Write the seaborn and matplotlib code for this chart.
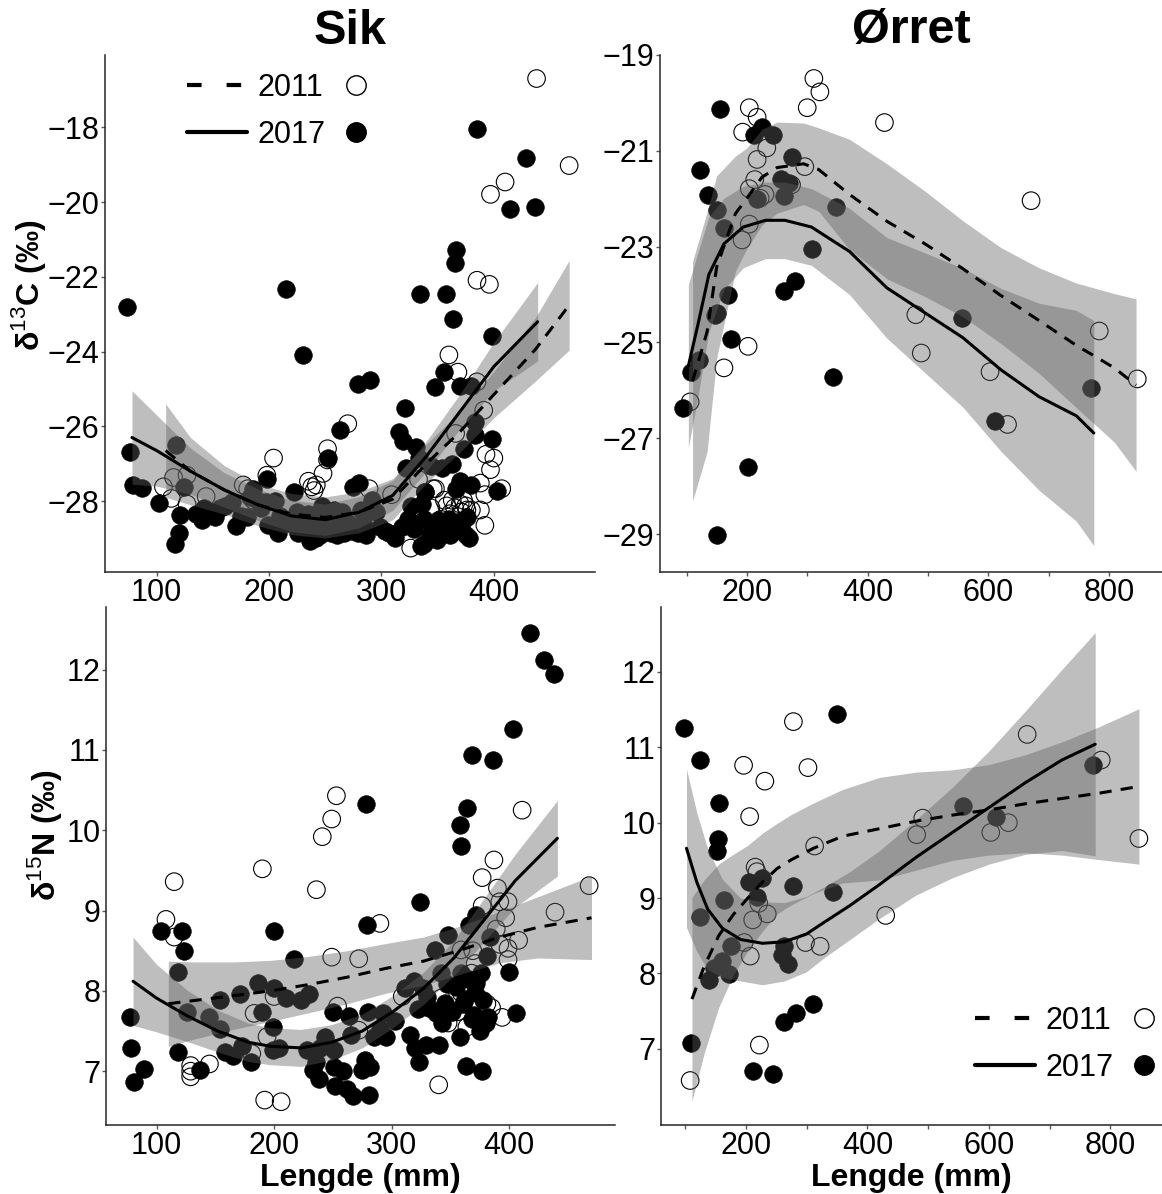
import numpy as np
import matplotlib
matplotlib.use("Agg")
import matplotlib.pyplot as plt
import seaborn as sns
from matplotlib.lines import Line2D

# ---------------- Sik, d13C ----------------
sikC_x17 = [74, 76, 79, 87, 102, 116, 120, 121, 117, 124, 135, 142, 152, 156, 161, 167, 171, 180, 186, 189,
            198, 197, 199, 208, 215, 222, 225, 226, 230, 235, 236, 242, 243, 247, 250, 252, 255, 258, 263, 265,
            267, 274, 275, 279, 279, 280, 282, 284, 290, 292, 299, 307, 312, 316, 319, 321, 322, 324, 326, 329,
            331, 333, 334, 336, 338, 338, 339, 343, 344, 348, 349, 353, 354, 356, 357, 360, 361, 363, 364, 365,
            366, 365, 366, 368, 370, 370, 373, 375, 376, 378, 380, 380, 383, 385, 383, 398, 398, 403, 414, 429,
            437, 205, 210, 218, 230, 238, 245, 248, 254, 260, 262, 270, 286, 295, 303, 318, 328, 335, 345, 350,
            358, 372, 140, 148, 175, 183, 193]
sikC_y17 = [-22.8, -26.7, -27.57, -27.65, -28.06, -29.16, -28.85, -28.37, -26.5, -27.62, -28.34, -28.18, -28.44,
            -28.18, -28.13, -28.03, -28.68, -28.44, -27.67, -27.98, -27.42, -28.03, -28.65, -28.85, -22.32, -27.77,
            -28.29, -28.85, -24.09, -28.34, -29.08, -29.0, -28.34, -28.13, -28.7, -26.85, -28.85, -28.24, -26.09,
            -28.29, -28.85, -28.8, -27.62, -24.86, -28.85, -27.52, -28.24, -28.59, -24.76, -27.98, -28.7, -28.85,
            -29.0, -26.14, -26.39, -25.52, -27.11, -28.49, -28.13, -28.75, -26.55, -26.85, -22.45, -28.08, -29.16,
            -28.49, -27.77, -28.9, -27.06, -24.96, -29.05, -28.9, -27.11, -24.55, -22.45, -28.49, -28.9, -27.0,
            -23.12, -28.8, -27.67, -21.63, -21.28, -28.55, -24.91, -27.47, -26.6, -28.9, -28.44, -29.0, -24.91,
            -27.57, -26.24, -18.05, -25.88, -23.58, -26.34, -27.72, -20.18, -18.82, -20.13, -28.0, -28.4, -28.6,
            -28.5, -28.7, -28.9, -28.5, -28.6, -28.9, -28.5, -28.6, -28.9, -28.3, -28.8, -28.7, -28.6, -29.2,
            -28.7, -28.5, -28.8, -28.6, -28.5, -28.3, -28.4, -27.9, -28.2]
sikC_x11 = [106, 113, 115, 127, 127, 144, 177, 181, 186, 198, 204, 235, 238, 240, 242, 248, 252, 252, 270, 289,
            309, 326, 333, 339, 344, 346, 353, 356, 358, 360, 361, 363, 365, 366, 368, 370, 371, 373, 375, 376,
            380, 385, 385, 388, 388, 391, 392, 393, 396, 397, 397, 400, 407, 410, 438, 467, 392, 358, 348]
sikC_y11 = [-27.62, -27.93, -27.37, -27.31, -28.08, -27.88, -27.57, -27.67, -27.98, -27.31, -26.85, -27.47,
            -27.62, -27.72, -27.57, -27.26, -26.6, -26.9, -25.93, -27.67, -27.83, -29.26, -27.42, -27.77, -28.18,
            -27.67, -28.49, -27.98, -28.13, -24.09, -28.34, -27.98, -28.18, -26.19, -24.55, -28.08, -28.29, -27.98,
            -28.13, -28.24, -28.24, -24.81, -22.09, -27.52, -28.24, -25.57, -27.83, -26.75, -22.2, -19.79, -27.16,
            -26.85, -27.67, -19.46, -16.69, -19.02, -28.65, -28.75, -27.67]
# smooth curves (fit, half-width of confidence band)
sikC_cx17 = [78, 100, 130, 160, 190, 220, 250, 280, 310, 340, 370, 400, 439]
sikC_cf17 = [-26.3, -26.65, -27.2, -27.7, -28.1, -28.4, -28.5, -28.3, -27.85, -26.8, -25.6, -24.4, -23.2]
sikC_hw17 = [1.25, 0.95, 0.62, 0.46, 0.42, 0.42, 0.42, 0.42, 0.4, 0.4, 0.47, 0.65, 1.05]
sikC_cx11 = [108, 130, 160, 190, 220, 250, 280, 310, 340, 370, 400, 437, 467]
sikC_cf11 = [-26.65, -27.2, -27.7, -28.1, -28.35, -28.44, -28.3, -27.95, -27.0, -26.14, -25.15, -23.94, -22.76]
sikC_hw11 = [1.25, 0.9, 0.65, 0.56, 0.55, 0.55, 0.55, 0.55, 0.52, 0.55, 0.62, 0.85, 1.2]

# ---------------- Ørret, d13C ----------------
orC_x17 = [94, 107, 120, 123, 136, 151, 147, 150, 156, 162, 169, 173, 202, 151, 211, 225, 244, 217, 257, 269,
           261, 274, 261, 280, 308, 348, 342, 556, 611, 771]
orC_y17 = [-26.37, -25.61, -25.37, -21.41, -21.93, -22.23, -24.42, -24.38, -20.12, -22.61, -24.0, -24.92, -27.6,
           -29.02, -20.67, -20.51, -20.67, -22.0, -21.59, -21.67, -21.95, -21.13, -23.92, -23.72, -23.04, -22.17,
           -25.72, -24.48, -26.63, -25.96]
orC_x11 = [106, 162, 192, 193, 204, 204, 204, 202, 217, 217, 213, 222, 230, 233, 296, 300, 311, 321, 274, 428,
           671, 480, 489, 603, 632, 784, 847]
orC_y11 = [-26.24, -25.53, -22.86, -20.61, -20.1, -22.53, -21.79, -25.08, -20.3, -21.18, -21.6, -21.99, -21.91,
           -20.94, -21.33, -20.1, -19.49, -19.77, -21.71, -20.41, -22.04, -24.42, -25.22, -25.61, -26.71, -24.76,
           -25.76]
orC_cx11 = [110, 134, 150, 181, 200, 225, 250, 294, 319, 370, 432, 495, 558, 621, 684, 746, 809, 845]
orC_cf11 = [-25.81, -24.78, -23.42, -22.31, -21.99, -21.55, -21.35, -21.27, -21.39, -21.91, -22.47, -22.94,
            -23.46, -24.02, -24.54, -25.06, -25.53, -25.89]
orC_hw11 = [2.5, 2.5, 1.9, 1.2, 1.05, 1.0, 0.95, 0.85, 0.87, 1.15, 1.2, 1.1, 1.0, 1.0, 1.1, 1.3, 1.55, 1.8]
orC_cx17 = [103, 119, 137, 162, 194, 231, 263, 307, 370, 432, 495, 558, 621, 684, 746, 775]
orC_cf17 = [-25.49, -24.62, -23.58, -22.94, -22.59, -22.45, -22.45, -22.59, -23.1, -23.86, -24.38, -24.9,
            -25.57, -26.13, -26.53, -26.89]
orC_hw17 = [1.7, 1.5, 1.2, 0.95, 0.85, 0.8, 0.8, 0.8, 0.9, 1.05, 1.25, 1.45, 1.7, 1.95, 2.2, 2.35]

# ---------------- Sik, d15N ----------------
sikN_x17 = [77, 78, 81, 89, 104, 118, 118, 122, 123, 126, 137, 145, 154, 154, 158, 165, 171, 173, 180, 186,
            190, 199, 200, 200, 199, 204, 210, 217, 223, 228, 230, 233, 236, 238, 239, 243, 246, 250, 251, 251,
            252, 259, 262, 264, 265, 267, 275, 277, 278, 279, 280, 281, 282, 285, 290, 293, 295, 303, 311, 316,
            319, 320, 322, 323, 324, 327, 329, 330, 332, 337, 338, 340, 342, 343, 347, 348, 351, 358, 359, 358,
            359, 361, 363, 364, 365, 366, 368, 368, 371, 372, 375, 377, 376, 378, 381, 382, 384, 386, 400, 403,
            406, 418, 430, 438, 345, 355, 370, 372, 380, 362]
sikN_y17 = [7.67, 7.29, 6.86, 7.03, 8.75, 8.24, 7.24, 8.75, 8.5, 7.74, 7.02, 7.68, 7.53, 7.89, 7.24, 7.19, 7.96,
            7.31, 7.12, 8.1, 7.74, 7.55, 8.03, 8.74, 7.26, 7.29, 7.91, 8.4, 7.89, 7.26, 7.96, 7.02, 7.12, 6.9,
            7.29, 7.43, 7.33, 7.74, 7.26, 7.05, 6.81, 7.0, 6.78, 7.69, 7.45, 6.69, 7.02, 7.14, 10.33, 8.82, 7.74,
            6.7, 7.05, 7.43, 7.53, 7.72, 7.43, 7.62, 8.03, 7.45, 8.12, 7.29, 7.77, 7.12, 9.11, 8.03, 7.33, 7.93,
            7.79, 8.51, 7.72, 7.33, 8.22, 7.6, 8.08, 8.7, 7.74, 10.06, 9.81, 7.43, 8.22, 7.84, 7.07, 10.28, 8.15,
            8.82, 10.94, 7.65, 7.98, 8.94, 7.5, 7.0, 8.22, 7.89, 8.44, 7.67, 8.67, 10.88, 8.24, 11.26, 7.72, 12.46,
            12.12, 11.95, 7.85, 8.05, 7.7, 8.1, 7.6, 7.9]
sikN_x11 = [108, 115, 115, 129, 129, 129, 145, 183, 181, 190, 194, 192, 200, 206, 236, 241, 249, 253, 249, 254,
            272, 272, 290, 309, 340, 342, 343, 348, 356, 359, 359, 364, 368, 369, 371, 377, 377, 381, 385, 387,
            389, 390, 392, 392, 394, 397, 399, 399, 399, 408, 411, 439, 468]
sikN_y11 = [8.89, 9.36, 8.67, 7.0, 6.93, 7.07, 7.09, 7.72, 7.22, 9.52, 7.43, 6.64, 7.93, 6.62, 9.26, 9.92, 10.14,
            10.43, 8.42, 7.81, 8.4, 7.51, 8.84, 7.93, 6.83, 7.91, 7.65, 7.6, 7.74, 8.51, 7.98, 7.55, 8.22, 8.5,
            8.34, 9.41, 9.06, 7.84, 7.79, 9.63, 8.77, 9.28, 9.11, 8.58, 7.67, 8.91, 9.11, 8.53, 8.39, 8.63, 10.25,
            8.98, 9.31]
sikN_cx17 = [80, 100, 126, 152, 178, 197, 223, 249, 275, 301, 327, 353, 379, 405, 441]
sikN_cf17 = [8.12, 7.91, 7.69, 7.5, 7.36, 7.31, 7.29, 7.36, 7.5, 7.74, 8.03, 8.41, 8.89, 9.37, 9.9]
sikN_hw17 = [0.55, 0.42, 0.32, 0.26, 0.24, 0.23, 0.23, 0.22, 0.21, 0.2, 0.2, 0.22, 0.27, 0.33, 0.47]
sikN_cx11 = [110, 132, 165, 197, 230, 262, 295, 327, 359, 392, 424, 470]
sikN_cf11 = [7.84, 7.88, 7.94, 8.0, 8.08, 8.17, 8.28, 8.37, 8.51, 8.67, 8.79, 8.91]
sikN_hw11 = [0.53, 0.48, 0.42, 0.38, 0.35, 0.33, 0.31, 0.3, 0.3, 0.32, 0.38, 0.52]

# ---------------- Ørret, d15N ----------------
orN_x17 = [98, 110, 124, 125, 139, 148, 155, 154, 152, 160, 164, 172, 176, 205, 212, 218, 227, 245, 263, 263,
           260, 269, 278, 282, 311, 344, 350, 557, 612, 772]
orN_y17 = [11.25, 7.08, 10.83, 8.75, 7.91, 8.07, 10.26, 9.78, 9.62, 8.17, 8.98, 7.99, 8.37, 9.21, 6.7, 9.02,
           9.27, 6.66, 7.36, 8.37, 8.25, 8.13, 9.16, 7.48, 7.59, 9.08, 11.44, 10.22, 10.07, 10.76]
orN_x11 = [108, 196, 206, 197, 207, 211, 215, 218, 221, 222, 231, 235, 278, 298, 302, 313, 322, 430, 481, 491,
           603, 632, 663, 785, 847]
orN_y11 = [6.58, 10.76, 10.08, 8.41, 8.23, 8.71, 9.41, 9.35, 8.93, 7.05, 10.55, 8.79, 11.34, 8.41, 10.73, 9.69,
           8.36, 8.77, 9.84, 10.06, 9.87, 10.0, 11.17, 10.83, 9.79]
orN_cx17 = [102, 119, 137, 161, 191, 227, 263, 299, 329, 371, 420, 480, 540, 600, 660, 720, 775]
orN_cf17 = [9.66, 9.21, 8.85, 8.6, 8.45, 8.4, 8.42, 8.52, 8.68, 8.9, 9.18, 9.54, 9.87, 10.2, 10.53, 10.83, 11.04]
orN_hw17 = [1.05, 0.92, 0.8, 0.65, 0.55, 0.55, 0.52, 0.5, 0.47, 0.45, 0.45, 0.5, 0.6, 0.75, 0.95, 1.2, 1.48]
orN_cx11 = [111, 131, 155, 179, 203, 227, 251, 275, 311, 359, 420, 480, 540, 600, 660, 720, 781, 847]
orN_cf11 = [7.66, 8.09, 8.5, 8.78, 9.0, 9.21, 9.39, 9.51, 9.66, 9.82, 9.92, 10.02, 10.1, 10.17, 10.25, 10.32,
            10.39, 10.48]
orN_hw11 = [1.35, 1.15, 0.95, 0.8, 0.7, 0.65, 0.6, 0.6, 0.6, 0.62, 0.68, 0.65, 0.6, 0.6, 0.65, 0.75, 0.88, 1.03]

titles = ["Sik", "Ørret"]
year_labels = ["2011", "2017"]
xlabel = "Lengde (mm)"

# ---------------- styling ----------------
sns.set_style("ticks")
plt.rcParams['font.family'] = ['Liberation Sans', 'DejaVu Sans']
plt.rcParams['mathtext.fontset'] = 'custom'
plt.rcParams['mathtext.rm'] = 'Liberation Sans'
plt.rcParams['mathtext.bf'] = 'Liberation Sans:bold'
plt.rcParams['text.color'] = 'black'
plt.rcParams['axes.labelcolor'] = 'black'
plt.rcParams['xtick.color'] = 'black'
plt.rcParams['ytick.color'] = 'black'

W, H = 1162, 1194
fig = plt.figure(figsize=(W / 100, H / 100), dpi=100)
fig.patch.set_facecolor('white')


def add_ax(l, r, t, b):
    return fig.add_axes([l / W, 1 - b / H, (r - l) / W, (b - t) / H])


RIB = '#616161'
RA = 0.41
DASH = (0, (4, 3))
TICKFS = 22


def panel(ax, x11, y11, x17, y17, c11, c17, xlim, ylim, xticks, yticks, minor=None):
    sns.scatterplot(x=x11, y=y11, ax=ax, marker='o', s=160, facecolor='none',
                    edgecolor='black', linewidth=0.8, zorder=2, legend=False)
    sns.scatterplot(x=x17, y=y17, ax=ax, marker='o', s=160, color='black',
                    edgecolor='black', linewidth=0.5, zorder=2, legend=False)
    for (cx, cf, hw), ls in ((c11, DASH), (c17, '-')):
        cx = np.asarray(cx, float)
        cf = np.asarray(cf, float)
        hw = np.asarray(hw, float)
        ax.fill_between(cx, cf - hw, cf + hw, color=RIB, alpha=RA, lw=0, zorder=3)
    for (cx, cf, hw), ls in ((c11, DASH), (c17, '-')):
        sns.lineplot(x=cx, y=cf, ax=ax, color='black', lw=2.2, linestyle=ls,
                     errorbar=None, sort=False, zorder=4)
    ax.set_xlim(*xlim)
    ax.set_ylim(*ylim)
    ax.set_xticks(xticks)
    ax.set_yticks(yticks)
    if minor is not None:
        ax.set_xticks(minor, minor=True)
    ax.tick_params(axis='both', which='both', labelsize=TICKFS, length=3, width=1,
                   color='0.35', pad=1.0, labelcolor='black')
    for s in ('top', 'right'):
        ax.spines[s].set_visible(False)
    for s in ('left', 'bottom'):
        ax.spines[s].set_color('0.15')
        ax.spines[s].set_linewidth(1.1)
    ax.set_xlabel('')
    ax.set_ylabel('')
    ax.grid(False)


ax1 = add_ax(105, 595, 55, 572)
panel(ax1, sikC_x11, sikC_y11, sikC_x17, sikC_y17,
      (sikC_cx11, sikC_cf11, sikC_hw11), (sikC_cx17, sikC_cf17, sikC_hw17),
      (54, 490), (-29.9, -16.06), [100, 200, 300, 400], [-28, -26, -24, -22, -20, -18])

ax2 = add_ax(660, 1162, 55, 572)
panel(ax2, orC_x11, orC_y11, orC_x17, orC_y17,
      (orC_cx11, orC_cf11, orC_hw11), (orC_cx17, orC_cf17, orC_hw17),
      (56, 888), (-29.79, -19.0), [200, 400, 600, 800], [-29, -27, -25, -23, -21, -19],
      minor=[100, 300, 500, 700])

ax3 = add_ax(106, 615, 607, 1125)
panel(ax3, sikN_x11, sikN_y11, sikN_x17, sikN_y17,
      (sikN_cx11, sikN_cf11, sikN_hw11), (sikN_cx17, sikN_cf17, sikN_hw17),
      (57, 490), (6.33, 12.78), [100, 200, 300, 400], [7, 8, 9, 10, 11, 12])

ax4 = add_ax(661, 1162, 607, 1125)
panel(ax4, orN_x11, orN_y11, orN_x17, orN_y17,
      (orN_cx11, orN_cf11, orN_hw11), (orN_cx17, orN_cf17, orN_hw17),
      (60, 885), (5.99, 12.86), [200, 400, 600, 800], [7, 8, 9, 10, 11, 12],
      minor=[100, 300, 500, 700])


def legend(ax, x_px, y_px):
    h = [Line2D([], [], color='k', lw=3, linestyle=(0, (3.5, 6))),
         Line2D([], [], color='k', lw=3),
         Line2D([], [], ls='none', marker='o', mfc='none', mec='k', ms=14, mew=1),
         Line2D([], [], ls='none', marker='o', mfc='k', mec='k', ms=14)]
    ax.legend(h, [year_labels[0], year_labels[1], '', ''], ncol=2, loc='upper left',
              bbox_to_anchor=(x_px / W, 1 - y_px / H), bbox_transform=fig.transFigure,
              frameon=False, fontsize=22, handlelength=1.96, handletextpad=0.36,
              columnspacing=0.0, labelspacing=0.55, borderpad=0, borderaxespad=0)


legend(ax1, 187, 73)
legend(ax4, 975, 1006)

fig.text(350 / W, 1 - 31 / H, titles[0], ha='center', va='center', fontsize=35, fontweight='bold',
         color='black')
fig.text(911 / W, 1 - 31 / H, titles[1], ha='center', va='center', fontsize=35, fontweight='bold',
         color='black')

fig.text(29 / W, 1 - 285 / H, 'δ$^{13}$C (‰)', rotation=90, ha='center', va='center',
         fontsize=23, fontweight='bold', color='black')
fig.text(45 / W, 1 - 835 / H, 'δ$^{15}$N (‰)', rotation=90, ha='center', va='center',
         fontsize=23, fontweight='bold', color='black')
fig.text(360 / W, 1 - 1186 / H, xlabel, ha='center', va='baseline', fontsize=23, fontweight='bold',
         color='black')
fig.text(911 / W, 1 - 1186 / H, xlabel, ha='center', va='baseline', fontsize=23, fontweight='bold',
         color='black')

fig.savefig('out.png', dpi=100, facecolor='white')
